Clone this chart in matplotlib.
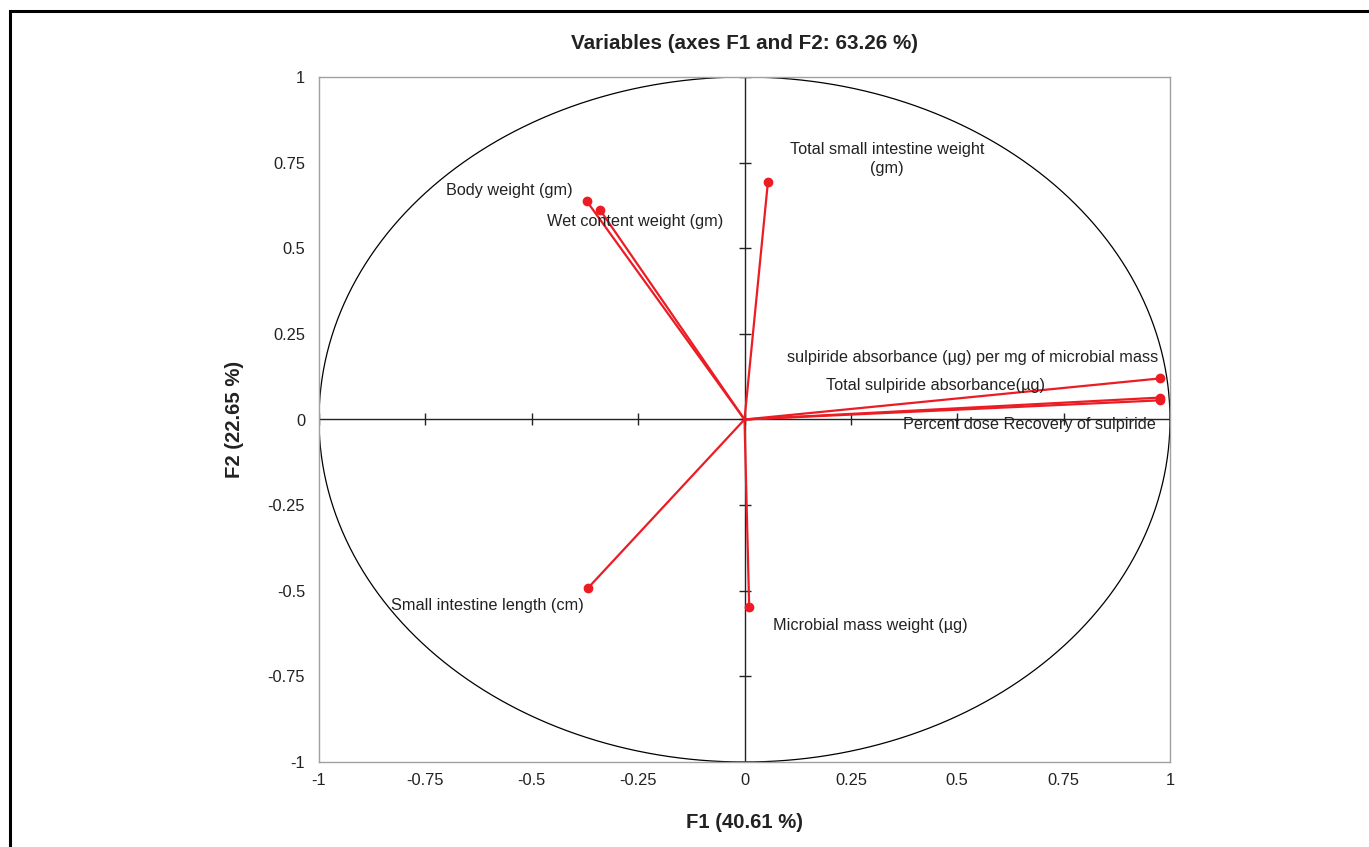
import numpy as np
import matplotlib
matplotlib.use("Agg")
import matplotlib.pyplot as plt
from matplotlib.patches import Rectangle

plt.rcParams['font.family'] = ['Liberation Sans', 'DejaVu Sans']

variables = [
    "Body weight (gm)",
    "Wet content weight (gm)",
    "Total small intestine weight\n(gm)",
    "sulpiride absorbance (µg) per mg of microbial mass",
    "Total sulpiride absorbance(µg)",
    "Percent dose Recovery of sulpiride",
    "Small intestine length (cm)",
    "Microbial mass weight (µg)",
]
f1 = [-0.371, -0.339, 0.055, 0.977, 0.977, 0.977, -0.367, 0.011]
f2 = [0.638, 0.611, 0.693, 0.120, 0.064, 0.056, -0.491, -0.547]
label_x = [-0.553, -0.257, 0.335, 0.536, 0.448, 0.669, -0.604, 0.295]
label_y = [0.670, 0.579, 0.760, 0.181, 0.099, -0.015, -0.544, -0.602]
ticks = [-1, -0.75, -0.5, -0.25, 0, 0.25, 0.5, 0.75, 1]
tick_labels = ["-1", "-0.75", "-0.5", "-0.25", "0", "0.25", "0.5", "0.75", "1"]

red = "#EC1C24"
txt = "#222222"

fig = plt.figure(figsize=(13.69, 8.47), dpi=100)
fig.patches.append(Rectangle((9.5 / 1369, -0.05), 1.2, 1 - 11 / 847 + 0.05,
                             transform=fig.transFigure, fill=False,
                             edgecolor="black", linewidth=2.2))
ax = fig.add_axes([319 / 1369, 1 - 762 / 847, (1170 - 319) / 1369, (762 - 77) / 847])
ax.set_xlim(-1, 1)
ax.set_ylim(-1, 1)
for s in ax.spines.values():
    s.set_color("#a0a0a0")
    s.set_linewidth(1.0)

# unit circle
th = np.linspace(0, 2 * np.pi, 500)
ax.plot(np.cos(th), np.sin(th), color="black", lw=0.9, zorder=2)
# zero axes
ax.axhline(0, color="#222222", lw=1.0, zorder=2)
ax.axvline(0, color="#222222", lw=1.0, zorder=2)
ax.plot(ticks, [0] * len(ticks), ls="none", marker="|", ms=8, mew=1.0, color="#222222", zorder=2)
ax.plot([0] * len(ticks), ticks, ls="none", marker="_", ms=8, mew=1.0, color="#222222", zorder=2)

for x, y in zip(f1, f2):
    ax.plot([0, x], [0, y], color=red, lw=1.6, zorder=3)
    ax.plot(x, y, "o", color=red, ms=6, zorder=4)

for name, lx, ly in zip(variables, label_x, label_y):
    ax.text(lx, ly, name, ha="center", va="center", fontsize=11.7, color=txt,
            linespacing=1.3, zorder=5)

ax.set_xticks(ticks)
ax.set_xticklabels(tick_labels)
ax.set_yticks(ticks)
ax.set_yticklabels(tick_labels)
ax.tick_params(length=0, labelsize=11.8, labelcolor=txt)
ax.tick_params(axis="x", pad=8)
ax.tick_params(axis="y", pad=10)

ax.set_title("Variables (axes F1 and F2: 63.26 %)", fontsize=14.9, fontweight="bold",
             color=txt, pad=20)
ax.set_xlabel("F1 (40.61 %)", fontsize=14.6, fontweight="bold", color=txt, labelpad=18)
ax.set_ylabel("F2 (22.65 %)", fontsize=14.6, fontweight="bold", color=txt, labelpad=17)

fig.savefig("out.png", dpi=100)
